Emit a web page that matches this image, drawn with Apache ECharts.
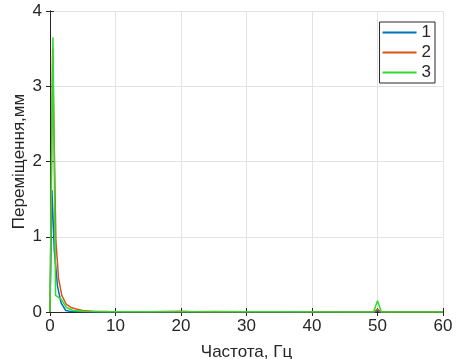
<!DOCTYPE html>
<html>
<head>
<meta charset="utf-8">
<script src="https://cdn.jsdelivr.net/npm/echarts@6/dist/echarts.min.js"></script>
<style>
  html, body { margin: 0; padding: 0; background: #fff; }
  #chart { width: 457px; height: 359px; }
</style>
</head>
<body>
<div id="chart"></div>
<script>
// [frequency Hz, displacement mm]
const series1 = [
  [0, 0], [0.3, 1.62], [0.65, 0.82], [1.15, 0.34], [1.7, 0.12], [2.4, 0.02],
  [3, 0.01], [5, 0.004], [10, 0.002], [20, 0.002], [30, 0.001], [40, 0.001],
  [49.6, 0], [50, 0.02], [50.4, 0], [60, 0]
];
const series2 = [
  [0, 0], [0.4, 3.5], [0.9, 0.95], [1.3, 0.45], [1.8, 0.22], [2.5, 0.1],
  [3.2, 0.06], [4, 0.04], [5, 0.02], [6.5, 0.01], [9, 0.005], [15, 0.004],
  [20, 0.01], [22, 0.004], [25, 0.008], [30, 0.003], [40, 0.002],
  [49.5, 0], [50, 0.04], [50.5, 0], [60, 0]
];
const series3 = [
  [0, 0], [0.45, 3.65], [0.85, 0.22], [1.7, 0.17], [2.5, 0.06], [3.5, 0.02],
  [5, 0.01], [8, 0.004], [15, 0.003], [25, 0.002], [35, 0.002], [45, 0.001],
  [49.4, 0], [50, 0.15], [50.6, 0], [60, 0]
];
const seriesNames = ['1', '2', '3'];
const colors = ['#0072BD', '#D95319', '#2fdc2f'];

const textColor = '#262626';
const font = '"Liberation Sans", Arial, sans-serif';

const chart = echarts.init(document.getElementById('chart'), null, { renderer: 'canvas' });

const axisBase = {
  axisLine: { show: true, onZero: false, lineStyle: { color: '#262626', width: 1 } },
  axisTick: { show: true, inside: true, length: 4, lineStyle: { color: '#262626' } },
  axisLabel: { color: textColor, fontSize: 17, fontFamily: font },
  nameTextStyle: { color: textColor, fontSize: 17, fontFamily: font },
  nameMoveOverlap: false,
  splitLine: { show: true, lineStyle: { color: '#e3e3e3', width: 1 } }
};

chart.setOption({
  backgroundColor: '#fff',
  animation: false,
  grid: { left: 50, right: 14, top: 11, bottom: 47, containLabel: false, outerBoundsMode: 'none' },
  legend: {
    orient: 'vertical',
    right: 22,
    top: 22,
    icon: 'rect',
    itemWidth: 34,
    itemHeight: 2,
    itemGap: 3,
    padding: [2, 4, 2, 3],
    borderColor: '#262626',
    borderWidth: 1,
    backgroundColor: '#fff',
    textStyle: { color: textColor, fontSize: 17, fontFamily: font },
    data: seriesNames
  },
  xAxis: [
    {
      ...axisBase,
      type: 'value',
      min: 0, max: 60, interval: 10,
      name: 'Частота, Гц',
      nameLocation: 'middle',
      nameGap: 32,
      axisLabel: { ...axisBase.axisLabel, margin: 6 }
    },
    {
      type: 'value', position: 'top', min: 0, max: 60, interval: 10,
      axisLine: { show: true, lineStyle: { color: '#262626' } },
      axisTick: { show: true, inside: true, length: 4, lineStyle: { color: '#262626' } },
      axisLabel: { show: false },
      splitLine: { show: false }
    }
  ],
  yAxis: [
    {
      ...axisBase,
      type: 'value',
      min: 0, max: 4, interval: 1,
      name: 'Переміщення,мм',
      nameLocation: 'middle',
      nameGap: 22,
      axisLabel: { ...axisBase.axisLabel, margin: 8 }
    },
    {
      type: 'value', position: 'right', min: 0, max: 4, interval: 1,
      axisLine: { show: true, lineStyle: { color: '#262626' } },
      axisTick: { show: true, inside: true, length: 4, lineStyle: { color: '#262626' } },
      axisLabel: { show: false },
      splitLine: { show: false }
    }
  ],
  series: [series1, series2, series3].map((data, i) => ({
    name: seriesNames[i],
    type: 'line',
    data: data,
    showSymbol: false,
    symbol: 'none',
    lineStyle: { color: colors[i], width: 1.5 },
    itemStyle: { color: colors[i] }
  }))
});
</script>
</body>
</html>
